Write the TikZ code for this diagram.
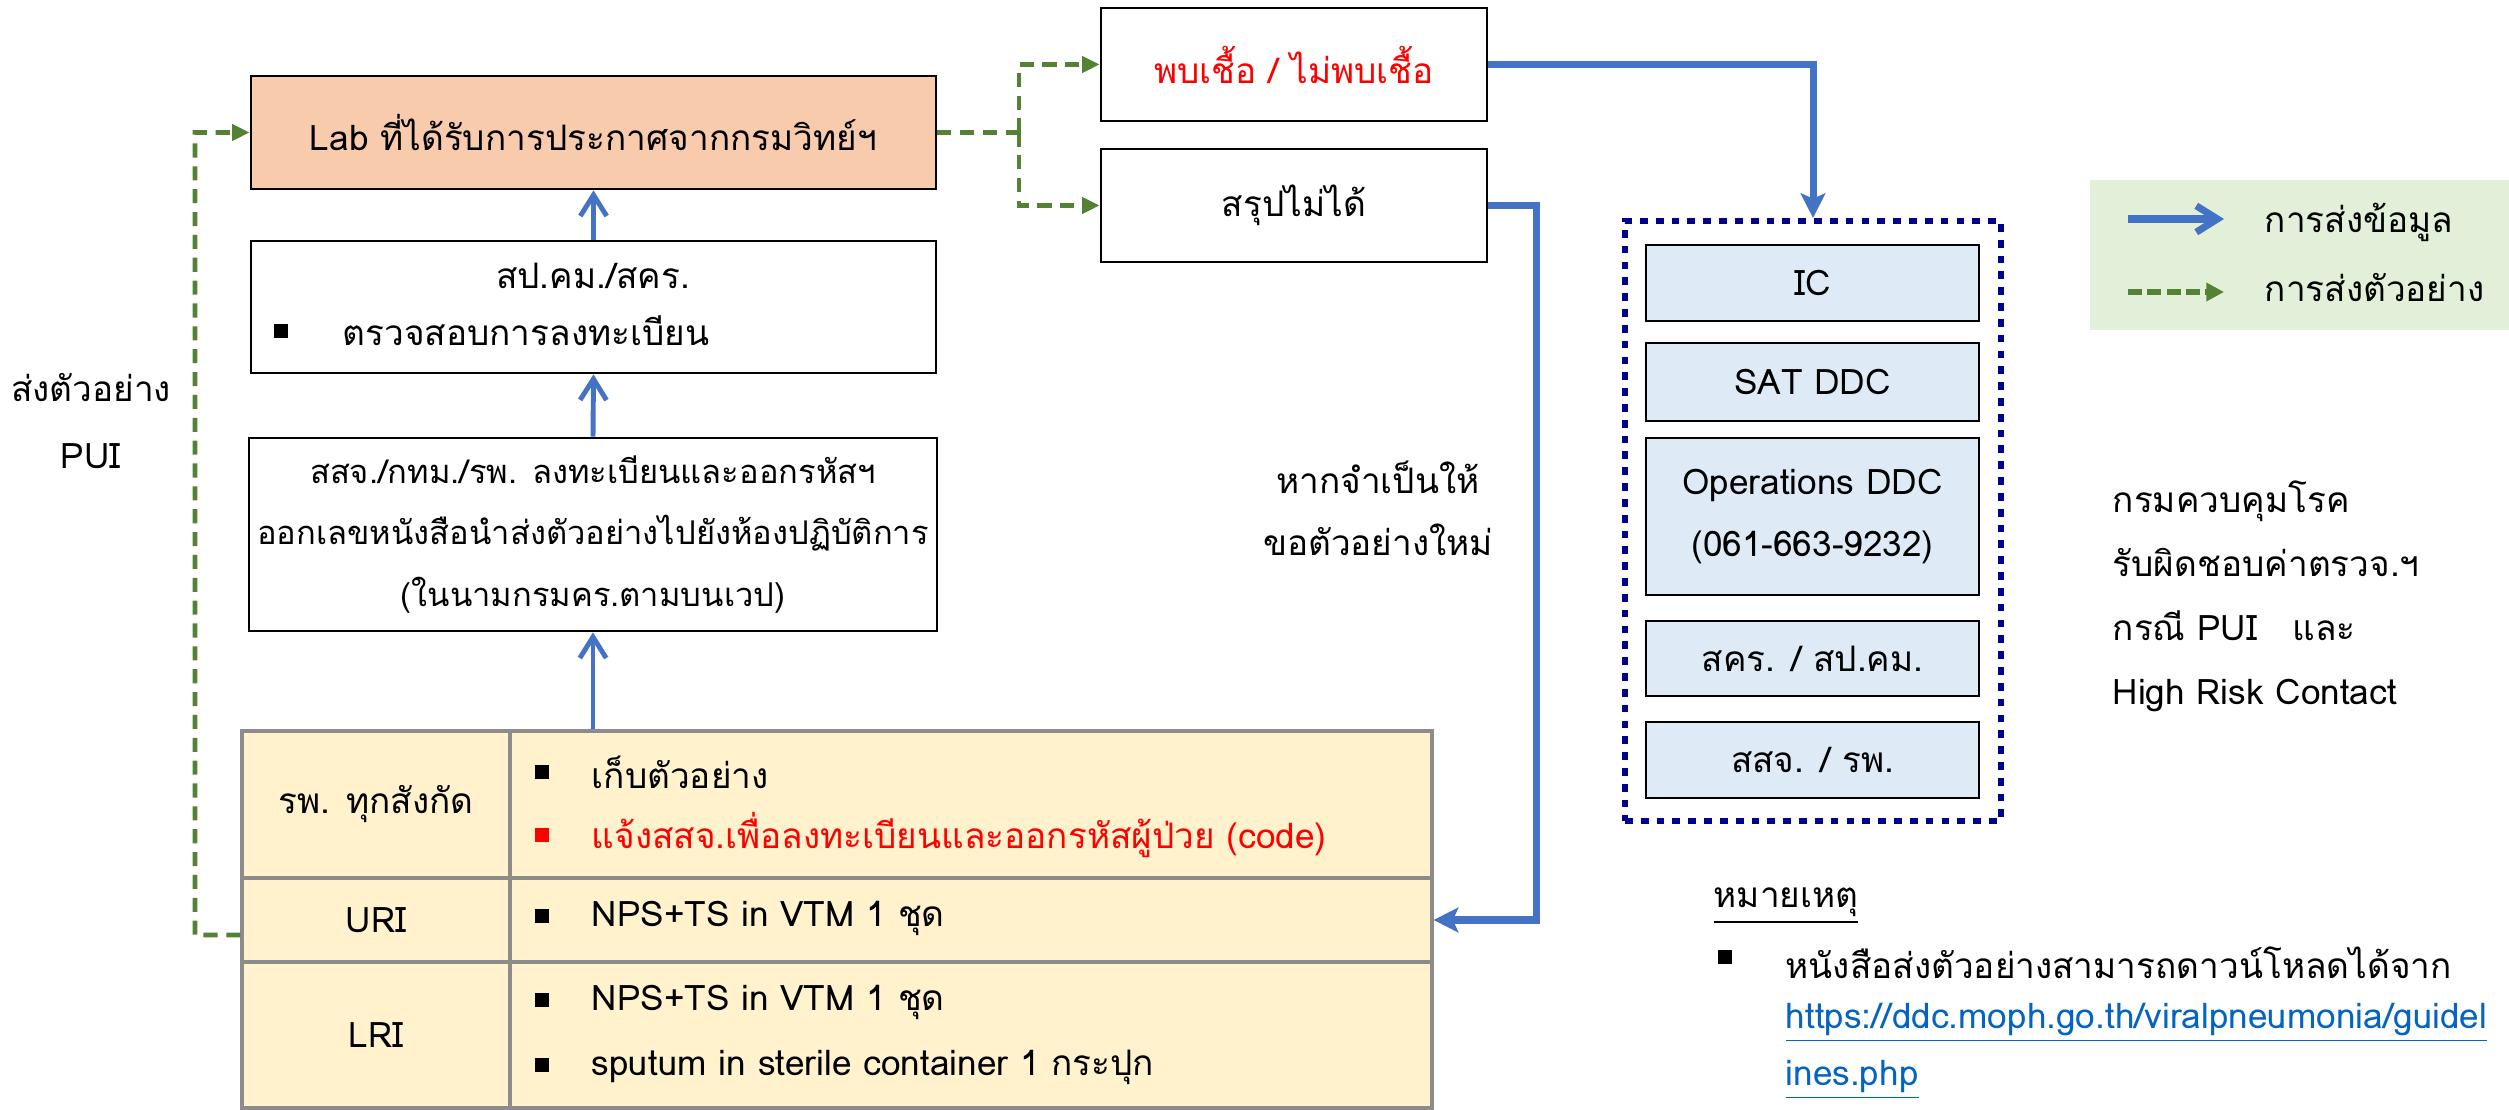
\documentclass[tikz,border=0pt]{standalone}
\usepackage{fontspec}
\setmainfont{Loma}[Script=Thai]
\usetikzlibrary{arrows.meta}
\definecolor{peach}{HTML}{F8CBAD}
\definecolor{cream}{HTML}{FFF2CC}
\definecolor{lblue}{HTML}{DEEBF7}
\definecolor{lgreen}{HTML}{E2F0D9}
\definecolor{dgreen}{HTML}{548235}
\definecolor{mblue}{HTML}{4472C4}
\definecolor{navy}{HTML}{00008F}
\definecolor{linkc}{HTML}{0563C1}
\definecolor{tgray}{HTML}{8C8C8C}
\definecolor{tred}{HTML}{FF0000}
\newcommand\bx[7]{\node[#6, minimum width={(#4-#2)*0.01cm}, minimum height={(#5-#3)*0.01cm}] (#1) at ({(#2+#4)/2},{(#3+#5)/2}) {#7};}
\newcommand\sq[2]{\fill ({#1-7},{#2-7}) rectangle ({#1+7},{#2+7});}
\begin{document}
\begin{tikzpicture}[x=0.01cm,y=-0.01cm,
  every node/.style={font=\fontsize{10}{17.6}\selectfont, inner sep=0pt},
  box/.style={draw=black, line width=0.75pt},
  cell/.style={draw=tgray, fill=cream, line width=0.9pt},
  inbox/.style={draw=black, fill=lblue, line width=0.75pt},
  bthin/.style={draw=mblue, line width=1.4pt, -{Straight Barb[length=6pt,width=7.5pt]}},
  bthick/.style={draw=mblue, line width=2pt, -{Stealth[length=7pt,width=7pt,inset=1.5pt]}},
  gdash/.style={draw=dgreen, line width=1.4pt, dash pattern=on 4pt off 2.5pt},
  garrow/.style={gdash, -{Triangle[length=5pt,width=4.5pt]}},
  txt/.style={align=left}
]
\useasboundingbox (0,0) rectangle (2509,1110);

% legend background
\bx{legbg}{2090}{180}{2509}{330}{fill=lgreen}{}

% left column boxes
\bx{lab}{251}{76}{936}{189}{box, fill=peach}{Lab ที่ได้รับการประกาศจากกรมวิทย์ฯ}
\bx{spkm}{251}{241}{936}{373}{box}{}
\node (spkmt) at (593,276) {สป.คม./สคร.};
\sq{281}{331}
\node[anchor=west] (spkmb) at (342,331) {ตรวจสอบการลงทะเบียน};
\bx{ssj}{249}{438}{937}{631}{box, align=center, font=\fontsize{9.3}{17.6}\selectfont}{สสจ./กทม./รพ. ลงทะเบียนและออกรหัสฯ\\ออกเลขหนังสือนำส่งตัวอย่างไปยังห้องปฏิบัติการ\\(ในนามกรมคร.ตามบนเวป)}

% result boxes
\bx{pob}{1101}{8}{1487}{121}{box, text=tred}{พบเชื้อ / ไม่พบเชื้อ}
\bx{sarup}{1101}{149}{1487}{262}{box}{สรุปไม่ได้}

% table
\bx{t11}{242}{731}{510}{878}{cell}{รพ. ทุกสังกัด}
\bx{t12}{510}{731}{1432}{878}{cell}{}
\bx{t21}{242}{878}{510}{962}{cell}{URI}
\bx{t22}{510}{878}{1432}{962}{cell}{}
\bx{t31}{242}{962}{510}{1108}{cell}{LRI}
\bx{t32}{510}{962}{1432}{1108}{cell}{}
\sq{542}{772}
\node[anchor=west] (r1a) at (591,772) {เก็บตัวอย่าง};
\fill[tred] (535,828) rectangle (549,842);
\node[anchor=west, text=tred] (r1b) at (591,835) {แจ้งสสจ.เพื่อลงทะเบียนและออกรหัสผู้ป่วย (code)};
\sq{542}{916}
\node[anchor=west] (r2a) at (591,918) {NPS+TS in VTM 1 ชุด};
\sq{542}{1000}
\node[anchor=west] (r3a) at (591,1002) {NPS+TS in VTM 1 ชุด};
\sq{542}{1065}
\node[anchor=west] (r3b) at (591,1067) {sputum in sterile container 1 กระปุก};

% DDC group
\bx{grp}{1625}{221}{2001}{821}{draw=navy, line width=1.7pt, dash pattern=on 2.2pt off 2.3pt}{}
\bx{ic}{1646}{245}{1979}{321}{inbox}{IC}
\bx{sat}{1646}{343}{1979}{421}{inbox}{SAT DDC}
\bx{ops}{1646}{438}{1979}{595}{inbox, align=center}{Operations DDC\\(061-663-9232)}
\bx{skr}{1646}{621}{1979}{696}{inbox}{สคร. / สป.คม.}
\bx{ssj2}{1646}{722}{1979}{798}{inbox}{สสจ. / รพ.}

% free texts
\node[align=center, font=\fontsize{10}{19.3}\selectfont] (pui) at (91,421) {ส่งตัวอย่าง\\PUI};
\node[align=center] (need) at (1378,508) {หากจำเป็นให้\\ขอตัวอย่างใหม่};
\node[anchor=west, align=left, font=\fontsize{10}{18.2}\selectfont] (resp) at (2112,596) {กรมควบคุมโรค\\รับผิดชอบค่าตรวจ.ฯ\\กรณี PUI\hspace{10pt}และ\\High Risk Contact};

% note
\node[anchor=west] (note) at (1713,906) {\underline{หมายเหตุ}};
\sq{1725}{957}
\node[anchor=west] (note1) at (1785,963) {หนังสือส่งตัวอย่างสามารถดาวน์โหลดได้จาก};
\node[anchor=west, text=linkc] (note2) at (1785,1023) {\underline{https://ddc.moph.go.th/viralpneumonia/guidel}};
\node[anchor=west, text=linkc] (note3) at (1785,1080) {\underline{ines.php}};

% legend
\coordinate (lb1) at (2128,219);
\coordinate (lb2) at (2224,219);
\coordinate (lg1) at (2128,292);
\coordinate (lg2) at (2224,292);
\draw[draw=mblue, line width=2pt, -{Straight Barb[length=6pt,width=7.5pt]}] (lb1) -- (lb2);
\draw[draw=dgreen, line width=1.6pt, dash pattern=on 4pt off 1.5pt, -{Triangle[length=5pt,width=5pt]}] (lg1) -- (lg2);
\node[anchor=west] (leg1) at (2264,222) {การส่งข้อมูล};
\node[anchor=west] (leg2) at (2264,288) {การส่งตัวอย่าง};

% connectors
\draw[bthin] (ssj.north) -- (spkm.south);
\draw[bthin] (spkm.north) -- (lab.south);
\draw[bthin] (ssj.south |- t12.north) -- (ssj.south);
\coordinate (gsplit) at (1019,132.5);
\draw[gdash] (lab.east) -- (gsplit);
\draw[garrow] (gsplit) |- (pob.west);
\draw[garrow] (gsplit) |- (sarup.west);
\coordinate (gleft) at (195,935);
\draw[garrow] ([yshift=-0.15cm]t21.west) -- (gleft) |- (lab.west);
\draw[bthick] (pob.east) -| (grp.north);
\coordinate (bturn) at (1536,205.5);
\draw[bthick] (sarup.east) -- (bturn) |- (t22.east);
\end{tikzpicture}
\end{document}
